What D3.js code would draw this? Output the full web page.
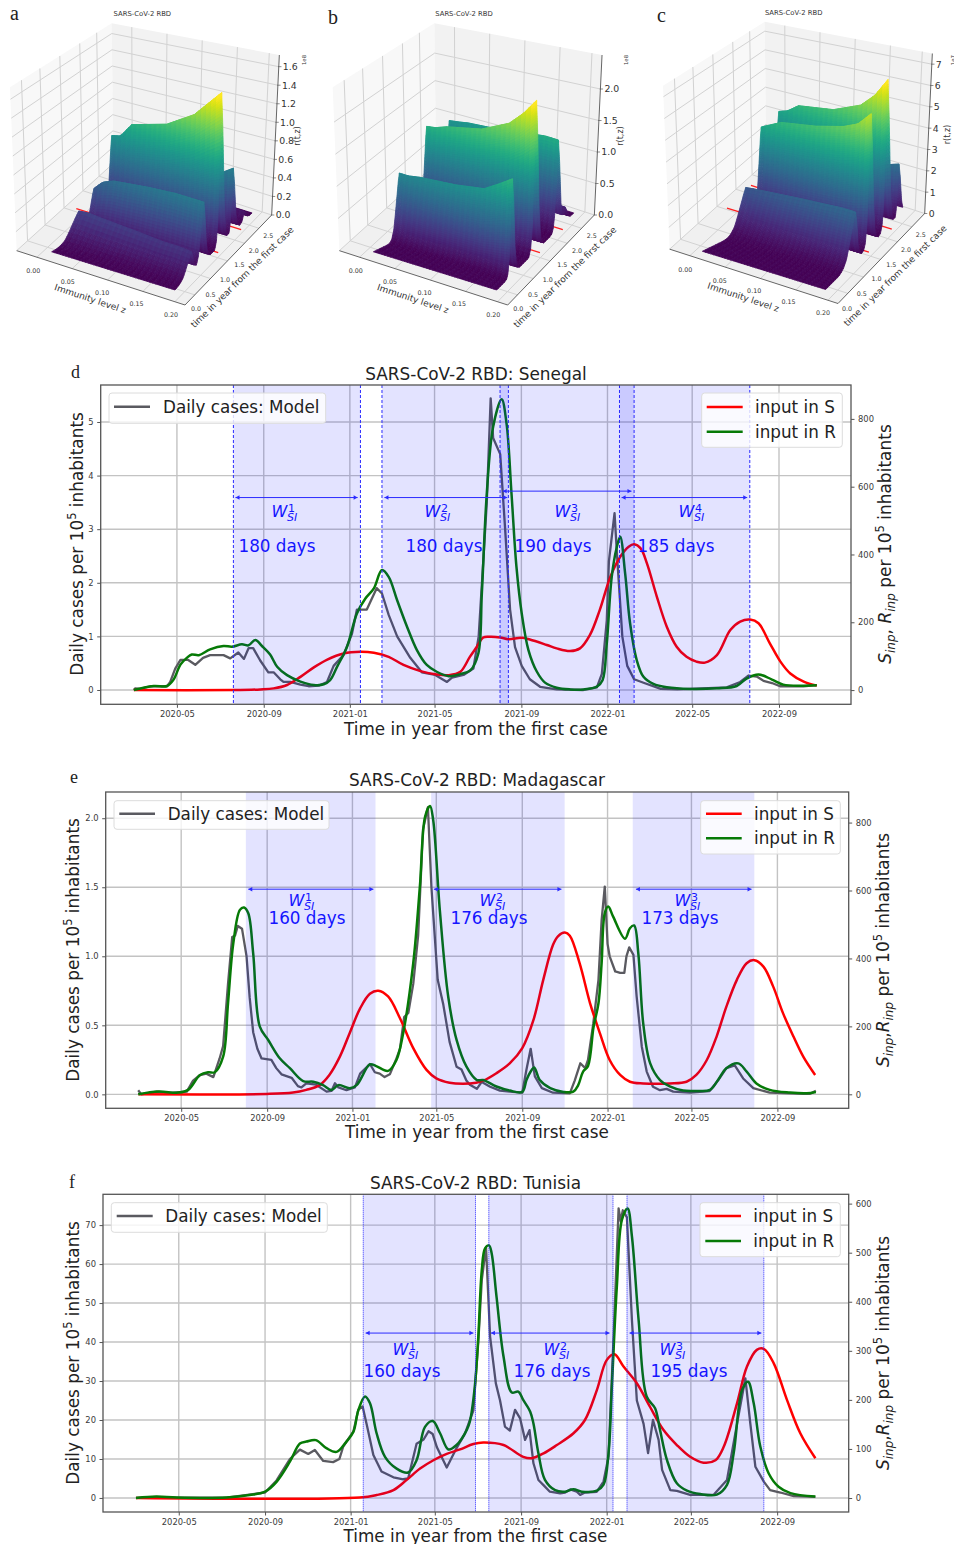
<!DOCTYPE html>
<html><head><meta charset="utf-8">
<script src="https://cdn.jsdelivr.net/npm/d3@7"></script>
<style>html,body{margin:0;background:#fff}svg{display:block}text{font-family:"DejaVu Sans",sans-serif}</style>
</head><body><svg id="c" width="954" height="1544"></svg>
<script>
// ---------- DATA: time series, [days since 2020-01-01, value] ----------
const monthTicks=["2020-05-01","2020-09-01","2021-01-01","2021-05-01","2021-09-01","2022-01-01","2022-05-01","2022-09-01"];
const xDomainDates=["2020-01-14","2022-12-12"];

const senegalModel=[[60,0],[62,.03],[69,.02],[83,.07],[93,.07],[107,.07],[111.5,.15],[118.6,.4],[126,.56],[137,.56],[147,.47],[158,.6],[168,.65],[187,.65],[196.5,.59],[208,.7],[216,.58],[222.5,.78],[229,.78],[239,.55],[250.5,.33],[258,.33],[267.4,.2],[272,.15],[281.6,.15],[296,.1],[307.6,.07],[321.8,.08],[333.6,.15],[343,.45],[357,.65],[369,1.05],[376,1.5],[390,1.5],[404,1.9],[411.5,1.8],[421,1.4],[433,1],[451.6,.6],[468,.33],[487,.28],[503.6,.15],[510.7,.23],[527,.28],[541,.4],[548.5,1],[555,2.4],[560,3.5],[565.5,5.44],[569,4.7],[579,4.4],[586,3],[593,1.5],[600,.8],[609.5,.45],[621,.2],[635.5,.06],[659,.01],[697,0],[716,.05],[723,.3],[730,1.3],[733,2.4],[741,3.3],[744.6,2.5],[752,1],[759,.45],[768.7,.2],[783,.13],[806.5,.02],[830,.01],[900,.05],[919,.15],[931,.27],[942.5,.25],[952,.17],[964,.13],[975.5,.07],[1008.6,.07],[1027.5,.09]];
const senegalS=[[60,0],[201,0],[239,2],[258,5],[277,15],[296,39],[315,67],[334,90],[357,108],[381,113],[400,110],[421,98],[442,74],[466,56],[489,46],[506,44],[522.5,54],[536,98],[546,128],[555,155],[565,157],[579,155],[590.5,150],[609.5,154],[621,149],[645,133],[659,123],[678,115],[692,123],[706,162],[720,236],[735,334],[749,393],[761,423],[768.7,430],[778,418],[787,373],[801,275],[815,187],[829,128],[843,98],[857,84],[869,81],[886,103],[905,177],[919,202],[933,208],[945,197],[961,138],[976,84],[990,49],[1009,25],[1027.5,13]];
const senegalR=[[60,0],[88,12],[107,12],[116,30],[126,75],[135,95],[142,105],[152,103],[168,120],[187,130],[199,128],[213,135],[222.5,132],[232,148],[241.5,130],[253,105],[263,69],[277,44],[296,25],[315,15],[329,17],[338,29],[348,69],[362,128],[376,226],[388,270],[400,300],[411.5,354],[421,334],[433,265],[447,187],[461,118],[475,74],[489,54],[506,41],[522.5,47],[537,59],[548,108],[553,285],[560,580],[569,777],[581,858],[588,786],[595,580],[602,364],[609.5,226],[619,118],[631,54],[642.5,22],[659,7],[678,2],[697,2],[716,10],[724,29],[730,138],[737,334],[744,420],[749,452],[756,344],[763,197],[772.5,88],[782,39],[796,18],[815,8],[848,3],[886,5],[914,12],[928,34],[945,46],[964,31],[980,16],[1009,13],[1027.5,14]];
const senegalWindows=[[201,381],[411.5,590.6],[578.8,768.7],[748,932.6]];
const senegalArrows=[[204,377,3.59],[415,589,3.59],[582.5,765,3.71],[751,929,3.59]];
const senegalDays=["180 days","180 days","190 days","185 days"];

const madagascarModel=[[59.5,.03],[64,0],[86,.02],[105,.01],[129,.02],[138,.1],[148,.14],[157,.15],[167,.125],[176,.26],[181,.35],[188,.8],[194,1.14],[198,1.15],[202,1.22],[208,1.2],[214.5,1],[219,.7],[224,.45],[230,.33],[236,.26],[243,.255],[250,.25],[257,.19],[264.5,.145],[279,.12],[288,.06],[293,.05],[300,.08],[314,.07],[329,.02],[336,.025],[341,.08],[346,.05],[357.5,.03],[369.5,.05],[377,.15],[391,.22],[398,.16],[405,.15],[412,.125],[419.5,.145],[429,.26],[434,.33],[440,.56],[446,.59],[453,.8],[460,1.15],[467,1.92],[474,2.08],[479,1.5],[488,.83],[496,.65],[505,.38],[515,.2],[522,.18],[529,.1],[534,.07],[544,.04],[551,.09],[563,.055],[577,.027],[591,.02],[609,.012],[615,.18],[621,.33],[627,.13],[637,.045],[653,.012],[677,.007],[684,.1],[692,.225],[699,.19],[703,.25],[710.5,.51],[718,.83],[722.5,1.26],[727,1.505],[731,1.09],[734,1],[742,.89],[749,.88],[755,.88],[758,1],[762,1.065],[768,1.01],[772.6,.71],[780,.345],[787,.165],[796,.055],[806,.03],[815.5,.04],[825,.02],[849,.012],[877,.024],[889,.1],[901,.19],[913,.21],[925,.115],[939.5,.045],[963,.012],[1011,.003],[1020,.003],[1029,.025]];
const madagascarS=[[60,0],[243,1],[281,5],[300,13],[319,27],[333,57],[348,111],[362,180],[377,253],[391,296],[403,305],[417,288],[434,224],[453,136],[472,72],[486,47],[505,34],[524,31],[543,34],[553,40],[572,62],[591,91],[609,136],[625,219],[639,337],[653,440],[660,465],[670,476],[677,467],[691,386],[706,268],[720,180],[734,101],[749,57],[763,37],[782,32],[820,32],[844,37],[858,57],[873,101],[887,170],[901,258],[916,337],[930,386],[941,395],[954,376],[968,317],[982,239],[997,170],[1011,111],[1028,57]];
const madagascarR=[[59.5,0],[88.5,8],[117,5],[131,13],[148,57],[160,65],[169,65],[181,111],[188,268],[195.6,445],[205,543],[211,550],[217,533],[224,415],[233.5,199],[245.5,160],[262,106],[276.5,77],[295.5,39],[310,37],[324,27],[336,13],[346,27],[362,18],[372,27],[391,88],[400,83],[417,69],[429,101],[438.6,180],[453,386],[462.5,612],[470,818],[477,849],[481.5,808],[491,543],[503,288],[515,160],[529,82],[544,42],[553,42],[572,23],[591,11],[609,7],[615,42],[621,67],[626,79],[634,42],[649,18],[668,7],[682,8],[689,27],[696,67],[703,83],[711,199],[718,268],[722.5,386],[727,533],[732,553],[739,523],[756,458],[763,489],[769,497],[775,415],[782,209],[792,91],[806,42],[820,23],[839,11],[858.5,10],[877.5,13],[889,42],[901,77],[918,91],[930,67],[944,32],[963,13],[992,5],[1016,3],[1029,7]];
const madagascarWindows=[[213.5,399],[478.6,669.6],[767,941]];
const madagascarArrows=[[217,396,1.486],[482.5,665,1.486],[771.6,937,1.486]];
const madagascarDays=["160 days","176 days","173 days"];

const tunisiaModel=[[60,0],[89,.2],[118,.1],[189,.1],[227,1],[244,1.4],[260.4,4.5],[279.4,10],[293.7,12.4],[305.6,11.3],[315,12.3],[327,9.5],[341,9.2],[350,10],[355.5,13.2],[370,17.1],[377,22.6],[383,23.5],[389,18.8],[398.4,11],[410,6.8],[427,5.3],[441,4.8],[448,5],[460,13.9],[470,15],[477,17.1],[483,16.4],[489,13],[503,7.8],[517,12.8],[529,16.5],[541,22.5],[548,40],[553,56],[559,64.4],[564.8,41.4],[573,29.4],[579,25],[586,18.3],[593,17.3],[600.4,22.6],[607.6,20.4],[614.7,14.9],[621,17.4],[626.6,8.9],[633.7,4.6],[643,2.9],[650,1.6],[664.7,1.2],[671.8,1.4],[679,2.2],[688.4,1.6],[693.2,.8],[700,1.4],[717,1.6],[726.5,4.2],[733.6,10.6],[740.8,41],[748,74.3],[751,71],[754,73.8],[759.8,72],[767,45.6],[774,25],[783.6,19],[790,11.5],[797,20],[805,14.9],[810,7.2],[821.7,2],[831,1.8],[850,.8],[883.5,.8],[902.5,4.6],[916.8,19],[928.7,30.7],[935.8,19],[943,8],[955,4.2],[964,2],[978.6,1.4],[997.7,.5],[1028.5,.3]];
const tunisiaS=[[60,0],[379,1],[403,6],[427,16],[446,37],[465,60],[484,77],[503,90],[522,99],[541,110],[555,113],[584,108],[593,101],[612,84],[624,81],[641,91],[660,108],[683.7,132],[700,159],[717,220],[731,281],[742,293],[755,268],[774,234],[792.7,186],[811.8,139],[831,108],[850,84],[869,72],[886,77],[898,105],[916.8,193],[931,268],[945,302],[955,304],[969,275],[988,200],[1007,132],[1028.5,81]];
const tunisiaR=[[60,0],[89,3],[118,1],[189,1],[222,6],[244,13],[260.4,33],[279.4,74],[293.7,111],[303,115],[316.5,118],[332,101],[346,94],[360,115],[370,135],[377,179],[386.5,207],[393.6,193],[403,132],[415,84],[431.6,60],[448,52],[460,77],[472,145],[483,157],[493.5,132],[505.4,99],[517,108],[531.6,139],[536,156],[543,227],[548,329],[553,465],[557.6,509],[563.3,515],[567,499],[574,410],[584,288],[595.7,215],[605,217],[612,200],[622,176],[626.6,152],[633.7,91],[643,37],[657.5,16],[671.8,13],[683.7,18],[695.6,13],[717,15],[726.5,27],[733.6,91],[738.4,227],[745.5,431],[752.7,567],[760.8,590],[767,533],[776.5,363],[788,207],[800,183],[807,139],[817,77],[831,30],[845.4,15],[864.5,8],[888,7],[902.5,27],[912,91],[924,220],[932.5,237],[940.6,193],[950,105],[962,50],[976,23],[993,10],[1028.5,3]];
const tunisiaWindows=[[384,544],[563,740],[760,955]];
const tunisiaArrows=[[387.4,541,42.3],[566,735,42.3],[763.6,951.5,42.3]];
const tunisiaDays=["160 days","176 days","195 days"];

// ---------- DATA: r(t,z) surfaces, crest time and crest height per z row ----------
const zRowFractions=[0,.08,.18,.5,.75,.88,1];
const surfA={crest:[.59,1.02,1.65,2.06,2.45],width:[.55,.35,.25,.2,.15],
 rows:[[.24,.25,.24,.22,.2,.2,.19],[.34,.42,.46,.5,.52,.52,.52],[.65,.67,.8,.9,1.06,1.2,1.33],[.2,.22,.25,.35,.42,.48,.56],[.08,.08,.08,.08,.08,.08,.08]]};
const surfB={crest:[.56,1.41,2.18,2.42],width:[.22,.28,.25,.15],
 rows:[[.92,.92,.95,1,1.07,1.2,1.33],[1.25,1.27,1.33,1.45,1.65,1.85,2.09],[1.03,1.05,1.08,1.13,1.2,1.23,1.23],[.2,.2,.2,.2,.2,.2,.2]]};
const surfC={crest:[1.06,1.61,2.2,2.59],width:[.6,.28,.28,.18],
 rows:[[1.6,1.65,1.7,1.85,1.95,2,2],[3.5,3.7,3.95,4.25,4.6,4.9,5.5],[3.46,3.6,3.96,4.25,4.8,5.4,6.24],[1,1.1,1.2,1.5,1.8,2,2.2]]};
const ridgeRise=[[-1,0],[-.75,.05],[-.55,.18],[-.4,.4],[-.25,.65],[-.1,.9],[0,1]];
const ridgeFall=[[0,1],[.04,.75],[.09,.25],[.14,.06],[.2,0]];
const redLineTimes=[1.37,2.18];
const rTicksA=[0,.2,.4,.6,.8,1,1.2,1.4,1.6], rTicksB=[0,.5,1,1.5,2], rTicksC=[0,1,2,3,4,5,6,7];
const zTicks=[0,.05,.1,.15,.2], tTicks=[0,.5,1,1.5,2,2.5];

// ---------- helpers ----------
const svg=d3.select("#c");
const day0=Date.UTC(2020,0,1);
const toDate=d=>new Date(day0+d*864e5);
const blue="#1414ff";

// ---------- 2-D panels ----------
function rich(sel,parts){parts.forEach(p=>{const t=sel.append("tspan").text(p.t);
  if(p.s)t.attr("font-size",p.s); if(p.i)t.attr("font-style","italic"); if(p.dy)t.attr("dy",p.dy);});}
function panel(o){
 const g=svg.append("g");
 const x=d3.scaleUtc().domain(xDomainDates.map(d=>new Date(d))).range([o.l,o.r]);
 const yL=d3.scaleLinear().domain(o.yL).range([o.b,o.t]);
 const yR=d3.scaleLinear().domain(o.yR).range([o.b,o.t]);
 const ticksX=monthTicks.map(d=>new Date(d));
 const gridC="#c3c3c3";
 g.append("g").selectAll("line").data(ticksX).join("line").attr("x1",d=>x(d)).attr("x2",d=>x(d)).attr("y1",o.t).attr("y2",o.b).attr("stroke",gridC).attr("stroke-width",1.4);
 g.append("g").selectAll("line").data(o.ticksL).join("line").attr("y1",d=>yL(d)).attr("y2",d=>yL(d)).attr("x1",o.l).attr("x2",o.r).attr("stroke",gridC).attr("stroke-width",1.4);
 const lineL=d3.line().x(d=>x(toDate(d[0]))).y(d=>yL(d[1]));
 const lineR=d3.line().x(d=>x(toDate(d[0]))).y(d=>yR(d[1])).curve(d3.curveCatmullRom.alpha(.5));
 g.append("path").attr("d",lineL(o.model)).attr("fill","none").attr("stroke","#5a5a60").attr("stroke-width",2.3).attr("stroke-linejoin","round");
 g.append("path").attr("d",lineR(o.S)).attr("fill","none").attr("stroke","#ff0000").attr("stroke-width",2.5);
 g.append("path").attr("d",lineR(o.R)).attr("fill","none").attr("stroke","#067a06").attr("stroke-width",2.5);
 g.append("g").selectAll("rect").data(o.windows).join("rect").attr("x",d=>x(toDate(d[0]))).attr("width",d=>x(toDate(d[1]))-x(toDate(d[0]))).attr("y",o.t).attr("height",o.b-o.t).attr("fill","#0000ff").attr("fill-opacity",.11);
 if(o.edge){ g.append("g").selectAll("line").data(o.windows.flat()).join("line").attr("x1",d=>x(toDate(d))).attr("x2",d=>x(toDate(d))).attr("y1",o.t).attr("y2",o.b).attr("stroke","#2a2aff").attr("stroke-width",1).attr("stroke-dasharray",o.edge);}
 o.arrows.forEach(a=>{const x1=x(toDate(a[0])),x2=x(toDate(a[1])),y=yL(a[2]);
   g.append("line").attr("x1",x1).attr("x2",x2).attr("y1",y).attr("y2",y).attr("stroke","#2a2aff").attr("stroke-width",1);
   g.append("path").attr("d",`M${x1},${y}l4,-2.2v4.4z M${x2},${y}l-4,-2.2v4.4z`).attr("fill","#2a2aff");});
 o.wLabels.forEach((w,i)=>{
   g.append("text").attr("x",w[0]-12.5).attr("y",w[1]+6).attr("fill",blue).attr("font-size",16).attr("font-style","italic").text("W");
   g.append("text").attr("x",w[0]+4).attr("y",w[1]+.5).attr("fill",blue).attr("font-size",11).text(i+1);
   g.append("text").attr("x",w[0]+3).attr("y",w[1]+10).attr("fill",blue).attr("font-size",11).attr("font-style","italic").text("SI");
   g.append("text").attr("x",w[2]).attr("y",w[3]+6).attr("text-anchor","middle").attr("fill",blue).attr("font-size",16.8).text(o.days[i]);
 });
 g.append("rect").attr("x",o.l).attr("y",o.t).attr("width",o.r-o.l).attr("height",o.b-o.t).attr("fill","none").attr("stroke","#555").attr("stroke-width",1.3);
 const style=s=>{s.selectAll("path").remove();s.selectAll("line").attr("stroke","#555");s.selectAll("text").attr("fill","#3a3a3a").attr("font-size",8.4).attr("font-family",'"DejaVu Sans"');};
 g.append("g").attr("transform",`translate(0,${o.b})`).call(d3.axisBottom(x).tickValues(ticksX).tickFormat(d3.utcFormat("%Y-%m")).tickSize(3.5).tickPadding(3.5)).call(style);
 g.append("g").attr("transform",`translate(${o.l},0)`).call(d3.axisLeft(yL).tickValues(o.ticksL).tickFormat(o.fmtL).tickSize(3.5).tickPadding(3.5)).call(style);
 g.append("g").attr("transform",`translate(${o.r},0)`).call(d3.axisRight(yR).tickValues(o.ticksR).tickFormat(d3.format("d")).tickSize(3.5).tickPadding(3.5)).call(style);
 const ink="#222";
 g.append("text").attr("x",o.cx).attr("y",o.titleY).attr("text-anchor","middle").attr("font-size",16.9).attr("fill",ink).text(o.title);
 g.append("text").attr("x",o.cx).attr("y",o.xlY).attr("text-anchor","middle").attr("font-size",16.8).attr("fill",ink).text("Time in year from the first case");
 const yl=g.append("text").attr("transform",`translate(${o.ylx},${o.ylc}) rotate(-90)`).attr("text-anchor","middle").attr("font-size",16.9).attr("fill",ink);
 rich(yl,[{t:"Daily cases per 10"},{t:"5",s:11.5,dy:-7},{t:" inhabitants",dy:7}]);
 const yr=g.append("text").attr("transform",`translate(${o.yrx},${o.ylc}) rotate(-90)`).attr("text-anchor","middle").attr("font-size",17).attr("fill",ink);
 rich(yr,[{t:"S",i:1},{t:"inp",i:1,s:12,dy:4},{t:o.comma,dy:-4},{t:"R",i:1},{t:"inp",i:1,s:12,dy:4},{t:" per 10",dy:-4},{t:"5",s:11.5,dy:-7},{t:" inhabitants",dy:7}]);
 g.append("text").attr("x",o.letter[0]).attr("y",o.letter[1]).attr("font-size",18).attr("fill","#222").style("font-family",'"Liberation Serif"').text(o.letter[2]);
 const L=o.legL,R=o.legR;
 const box=(b)=>g.append("rect").attr("x",b.x0).attr("y",b.y0).attr("width",b.x1-b.x0).attr("height",b.y1-b.y0).attr("rx",3).attr("fill","#fff").attr("fill-opacity",.8).attr("stroke","#dcdcdc");
 const ent=(b,y,c,label)=>{g.append("line").attr("x1",b.lx0).attr("x2",b.lx1).attr("y1",y).attr("y2",y).attr("stroke",c).attr("stroke-width",2.5);
   g.append("text").attr("x",b.tx).attr("y",y+6).attr("font-size",16.8).attr("fill",ink).text(label);};
 box(L);ent(L,L.y,"#5a5a60","Daily cases: Model");
 box(R);ent(R,R.y,"#ff0000","input in S");ent(R,R.y2,"#067a06","input in R");
}

panel({title:"SARS-CoV-2 RBD: Senegal",l:100.7,r:851,t:385,b:704.3,cx:476,titleY:380,xlY:735,
 yL:[-.267,5.69],yR:[-42,900],ticksL:[0,1,2,3,4,5],ticksR:[0,200,400,600,800],fmtL:d3.format("d"),
 model:senegalModel,S:senegalS,R:senegalR,windows:senegalWindows,arrows:senegalArrows,days:senegalDays,edge:"3,2",
 wLabels:[[284,511,277,546],[437,511,444,546],[567,511,553,546],[691,511,676,546]],
 ylx:83,yrx:891,ylc:544,comma:", ",letter:[71,378,"d"],
 legL:{x0:109,x1:325.7,y0:393,y1:423.3,lx0:114,lx1:150,y:406.7,tx:163},
 legR:{x0:701.7,x1:842.3,y0:393,y1:447.3,lx0:706.7,lx1:742.7,y:407,y2:431.7,tx:755}});
panel({title:"SARS-CoV-2 RBD: Madagascar",l:105.7,r:848.7,t:792,b:1108.3,cx:477,titleY:786,xlY:1138,
 yL:[-.101,2.19],yR:[-41.2,890],ticksL:[0,.5,1,1.5,2],ticksR:[0,200,400,600,800],fmtL:d3.format(".1f"),
 model:madagascarModel,S:madagascarS,R:madagascarR,windows:madagascarWindows,arrows:madagascarArrows,days:madagascarDays,edge:null,
 wLabels:[[301,900,307,918],[492,900,489,918],[687,900,680,918]],
 ylx:79,yrx:889,ylc:950,comma:",",letter:[70,783,"e"],
 legL:{x0:114,x1:329,y0:800.7,y1:829.3,lx0:119.3,lx1:155,y:813.7,tx:167.7},
 legR:{x0:700.7,x1:840.3,y0:800.7,y1:854,lx0:706,lx1:741.7,y:813.7,y2:838.3,tx:754}});
panel({title:"SARS-CoV-2 RBD: Tunisia",l:103,r:848.7,t:1194.3,b:1512,cx:475.5,titleY:1189,xlY:1541.5,
 yL:[-3.6,77.9],yR:[-28.5,619],ticksL:[0,10,20,30,40,50,60,70],ticksR:[0,100,200,300,400,500,600],fmtL:d3.format("d"),
 model:tunisiaModel,S:tunisiaS,R:tunisiaR,windows:tunisiaWindows,arrows:tunisiaArrows,days:tunisiaDays,edge:"1,1",
 wLabels:[[405,1349,402,1371],[556,1349,552,1371],[672,1349,689,1371]],
 ylx:79,yrx:889,ylc:1353,comma:",",letter:[69,1188,"f"],
 legL:{x0:111.3,x1:327.3,y0:1202.7,y1:1232.3,lx0:116.7,lx1:152.7,y:1216,tx:165.3},
 legR:{x0:700,x1:840.3,y0:1202.7,y1:1256.7,lx0:705.3,lx1:741,y:1216,y2:1241,tx:753.3}});

// ---------- 3-D panels ----------
const rise=d3.scaleLinear(ridgeRise.map(d=>d[0]),ridgeRise.map(d=>d[1])).clamp(true);
const fall=d3.scaleLinear(ridgeFall.map(d=>d[0]),ridgeFall.map(d=>d[1])).clamp(true);
const spanAtT=d3.scaleLinear([0,.55,1,1.6,2.8],[370,340,330,330,325]);
const lerp=(a,b,s)=>[a[0]+(b[0]-a[0])*s,a[1]+(b[1]-a[1])*s];
function surface3d(o){
 const g=svg.append("g").attr("transform",`translate(${o.ox},${o.oy}) scale(${1/3})`);
 const FL=[50,752],FN=[555,915],FR=[815,645],FB=[340,490],TL=[30,262],TB=[335,70],TR=[838,165];
 const poly=(pts,fill)=>g.append("path").attr("d",d3.line()(pts)+"Z").attr("fill",fill);
 poly([FL,TL,TB,FB],"#f8f8f8");poly([FB,TB,TR,FR],"#f2f2f2");poly([FL,FN,FR,FB],"#f0f0f0");
 const seg=(a,b,c="#d2d2d2",w=3)=>g.append("line").attr("x1",a[0]).attr("y1",a[1]).attr("x2",b[0]).attr("y2",b[1]).attr("stroke",c).attr("stroke-width",w);
 [.115,.3,.5,.7,.87].forEach(s=>{const a=lerp(FL,FB,s*.98),b=lerp(TL,TB,s*.98);seg(a,b);seg(a,lerp(FN,FR,s*.98));});
 [.12,.33,.54,.75,.94].forEach(s=>{const a=lerp(FB,FR,s),b=lerp(TB,TR,s);seg(a,b);seg(a,lerp(FL,FN,s));});
 const rPos=d3.scaleLinear([0,o.rMaxAxis],[0,(645-o.rTopY)/(645-165)]);
 o.rTicks.forEach(v=>{const s=rPos(v);const l=lerp(FL,TL,s),b=lerp(FB,TB,s),r=lerp(FR,TR,s);seg(l,b);seg(b,r);});
 seg(FL,FN,"#666",3);seg(FN,FR,"#666",3);seg(FR,TR,"#666",3);
 const P=(f,t,r)=>{const rx=o.base[0]+85*t,ry=o.base[1]-85*t,s=spanAtT(t)*(1-f);return [rx-s,ry-s*.31-r*o.rPx];};
 redLineTimes.forEach(t=>{const a=P(-.25,t,0),b=P(1.04,t,0);seg(a,b,"#ff2020",4);});
 const rowScales=o.surf.rows.map(row=>d3.scaleLinear(zRowFractions,row));
 const shape=(k,t)=>{const dt=t-o.surf.crest[k];return dt<0?rise(dt/o.surf.width[k]):fall(dt);};
 const R=(f,t)=>d3.sum(rowScales,(s,k)=>s(f)*shape(k,t));
 const rMax=d3.max(o.surf.rows,r=>d3.max(r));
 const tEnd=2.72; const ts=[0];
 while(ts[ts.length-1]<tEnd){const t=ts[ts.length-1];let dt=.07;
   const nextCrest=d3.min(o.surf.crest.filter(c=>c>t+1e-6));
   if(nextCrest!==undefined&&t+dt>nextCrest)dt=nextCrest-t;
   while(dt>.004&&Math.abs(R(1,t+dt)-R(1,t))>rMax*.02)dt/=1.6;ts.push(Math.min(t+dt,tEnd));}
 const nZ=44, quads=[];
 for(let i=ts.length-2;i>=0;i--)for(let j=0;j<nZ;j++){
   const f0=j/nZ,f1=(j+1)/nZ,t0=ts[i],t1=ts[i+1];
   const h=[R(f0,t0),R(f1,t0),R(f1,t1),R(f0,t1)];
   const v=Math.min(1,d3.mean(h)/(rMax*.97));
   const shade=(j%2)?0:.012;
   quads.push({p:[P(f0,t0,h[0]),P(f1,t0,h[1]),P(f1,t1,h[2]),P(f0,t1,h[3])],c:d3.interpolateViridis(Math.min(1,v+shade))});
 }
 g.append("g").selectAll("path").data(quads).join("path").attr("d",d=>d3.line()(d.p)+"Z").attr("fill",d=>d.c).attr("stroke",d=>d.c).attr("stroke-width",2.4).attr("stroke-linejoin","round");
 const ink="#333";
 const zx=d3.scaleLinear([0,.2],o.zLab[0]),zy=d3.scaleLinear([0,.2],o.zLab[1]);
 g.append("g").selectAll("text").data(zTicks).join("text").attr("x",zx).attr("y",zy).attr("text-anchor","middle").attr("font-size",19).attr("fill",ink).text(d3.format(".2f"));
 const tx=d3.scaleLinear([0,2.5],o.tLab[0]),ty=d3.scaleLinear([0,2.5],o.tLab[1]);
 g.append("g").selectAll("text").data(tTicks).join("text").attr("x",tx).attr("y",ty).attr("text-anchor","middle").attr("font-size",19).attr("fill",ink).text(d3.format(".1f"));
 const ry=d3.scaleLinear([0,o.rMaxAxis],[645,o.rTopY]);
 g.append("g").selectAll("text").data(o.rTicks).join("text").attr("x",d=>815+23*(645-ry(d))/480+12).attr("y",d=>ry(d)+10).attr("font-size",28).attr("fill",ink).text(o.rFmt);
 g.append("g").selectAll("line").data(o.rTicks).join("line").attr("x1",d=>815+23*(645-ry(d))/480-2).attr("x2",d=>815+23*(645-ry(d))/480+8).attr("y1",ry).attr("y2",ry).attr("stroke","#555").attr("stroke-width",2);
 g.append("text").attr("x",o.titleX).attr("y",o.titleY).attr("text-anchor","middle").attr("font-size",20.5).attr("fill",ink).text("SARS-CoV-2 RBD");
 g.append("text").attr("transform","translate(268,905) rotate(18.5)").attr("text-anchor","middle").attr("font-size",27).attr("fill",ink).text("Immunity level z");
 g.append("text").attr("transform","translate(733,838) rotate(-44.5)").attr("text-anchor","middle").attr("font-size",27).attr("fill",ink).text("time in year from the first case");
 g.append("text").attr("transform",`translate(${o.rlx},408) rotate(-90)`).attr("text-anchor","middle").attr("font-size",24).attr("fill",ink).text("r(t,z)");
 g.append("text").attr("transform",`translate(${o.rlx+17},${o.expY}) rotate(-90)`).attr("text-anchor","middle").attr("font-size",16).attr("fill",ink).text(o.exp);
 svg.append("text").attr("x",o.letter[0]).attr("y",o.letter[1]).attr("font-size",20).attr("fill","#222").style("font-family",'"Liberation Serif"').text(o.letter[2]);
}
surface3d({ox:0,oy:0,surf:surfA,base:[525,870],rPx:340,rTicks:rTicksA,rMaxAxis:1.6,rTopY:200,rFmt:d3.format(".1f"),
 zLab:[[100,513],[818,951]],tLab:[[588,805],[934,714]],titleX:427,titleY:49,rlx:900,exp:"1e8",expY:180,letter:[10,20,"a"]});
surface3d({ox:322.7,oy:0,surf:surfB,base:[522,870],rPx:215,rTicks:rTicksB,rMaxAxis:2,rTopY:267,rFmt:d3.format(".1f"),
 zLab:[[99,512],[818,951]],tLab:[[587,807],[934,714]],titleX:424,titleY:49,rlx:900,exp:"1e8",expY:180,letter:[328,24,"b"]});
surface3d({ox:653,oy:-1.5,surf:surfC,base:[518,873],rPx:71,rTicks:rTicksC,rMaxAxis:7,rTopY:197,rFmt:d3.format("d"),
 zLab:[[97,510],[821,948]],tLab:[[582,803],[936,716]],titleX:422,titleY:49,rlx:890,exp:"1e7",expY:185,letter:[657,22,"c"]});
</script></body></html>
